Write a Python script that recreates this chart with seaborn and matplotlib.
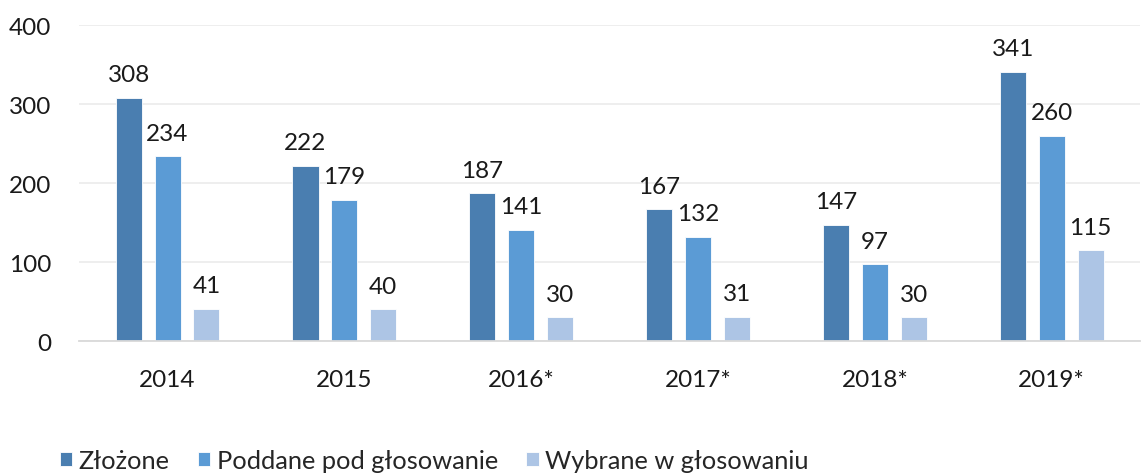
import pandas as pd
import matplotlib
matplotlib.use('Agg')
import matplotlib.pyplot as plt
import seaborn as sns

# dane
lata = ['2014', '2015', '2016*', '2017*', '2018*', '2019*']
serie = ['Złożone', 'Poddane pod głosowanie', 'Wybrane w głosowaniu']
zlozone = [308, 222, 187, 167, 147, 341]
poddane = [234, 179, 141, 132, 97, 260]
wybrane = [41, 40, 30, 31, 30, 115]
kolory = ['#4A7EB0', '#5B9BD5', '#ADC5E5']

df = pd.DataFrame({'rok': lata * 3,
                   'seria': [serie[0]] * 6 + [serie[1]] * 6 + [serie[2]] * 6,
                   'wartosc': zlozone + poddane + wybrane})

sns.set_style('white')
plt.rcParams['font.family'] = ['Lato', 'DejaVu Sans']

fig = plt.figure(figsize=(11.47, 4.77), dpi=100)
ax = fig.add_axes([0.069, 0.283, 0.925, 0.662])

sns.barplot(data=df, x='rok', y='wartosc', hue='seria', palette=kolory,
            width=0.66, gap=0.33, ax=ax, edgecolor='white', linewidth=0.6,
            saturation=1)

for cont in ax.containers:
    ax.bar_label(cont, padding=9, fontsize=17.5, color='#1a1a1a')

ax.set_ylim(0, 400)
ax.set_yticks([0, 100, 200, 300, 400])
ax.set_xlim(-0.5, 5.5)
ax.set_xlabel('')
ax.set_ylabel('')
ax.yaxis.grid(True, color='#EDEDED', linewidth=1.3)
ax.set_axisbelow(True)
for s in ['top', 'right', 'left']:
    ax.spines[s].set_visible(False)
ax.spines['bottom'].set_color('#D9D9D9')
ax.spines['bottom'].set_linewidth(1.3)
ax.tick_params(axis='both', length=0, labelsize=17.5, colors='#1a1a1a')
ax.tick_params(axis='x', pad=20)
ax.tick_params(axis='y', pad=20)

h, l = ax.get_legend_handles_labels()
ax.get_legend().remove()
fig.legend(h, l, loc='lower left', bbox_to_anchor=(0.032, -0.04), ncol=3,
           frameon=False, fontsize=18.3, handlelength=0.5, handleheight=0.5,
           handletextpad=0.25, columnspacing=1.1)

fig.savefig('out.png', dpi=100)
